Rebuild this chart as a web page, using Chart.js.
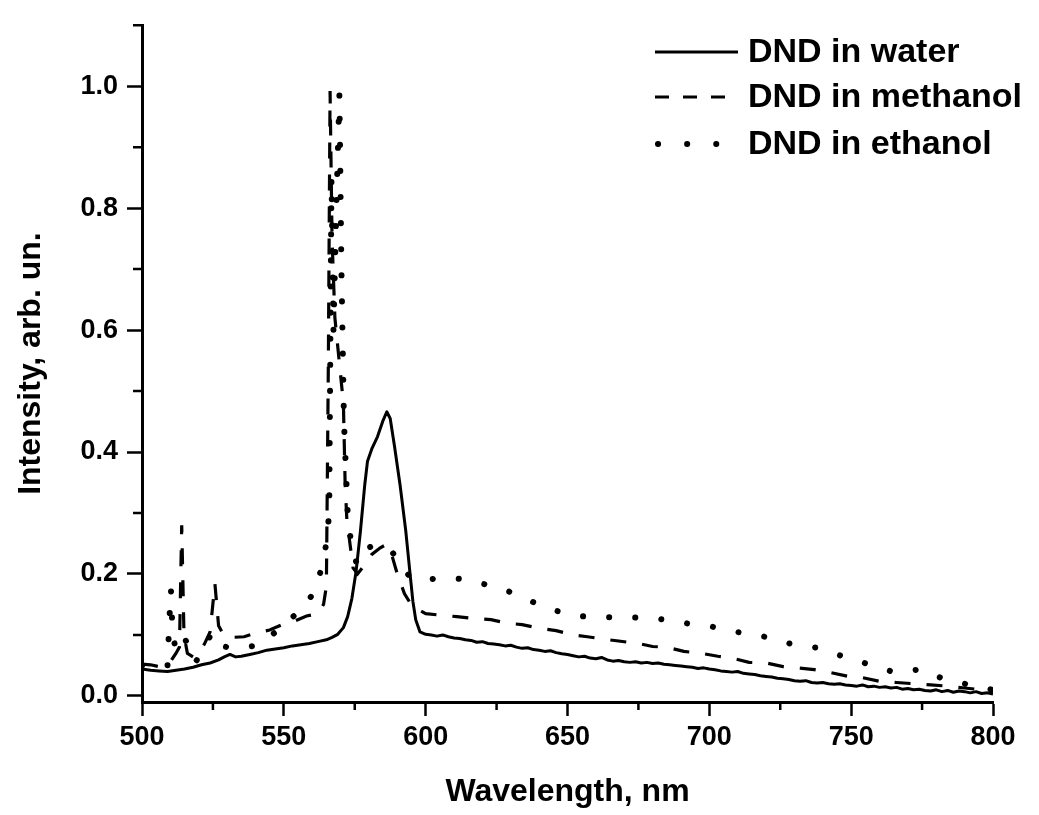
<!DOCTYPE html>
<html>
<head>
<meta charset="utf-8">
<script src="https://cdn.jsdelivr.net/npm/chart.js@4.4.0/dist/chart.umd.min.js"></script>
<style>
  html, body { margin: 0; padding: 0; background: #fff; }
  #wrap { width: 1039px; height: 815px; }
</style>
</head>
<body>
<div id="wrap"><canvas id="myChart" width="1039" height="815"></canvas></div>
<script>
// wavelength (nm) and intensity (arb. un.)
var waterX = [500,503,506,509,512,515,518,521,524,527,529,531,533,535,538,541,544,547,550,553,556,559,562,565,567,569,571,572.5,574,575.5,577,578.5,579.5,581,583,585,586.3,587.5,589,591,593,594.5,595.5,596.5,598,
  600,602,604,606,608,610,612,614,616,618,620,622,624,626,628,630,632,634,636,638,640,642,644,646,648,650,652,654,656,658,660,662,664,666,668,670,672,674,676,678,680,682,684,686,688,690,692,694,696,698,
  700,702,704,706,708,710,712,714,716,718,720,722,724,726,728,730,732,734,736,738,740,742,744,746,748,750,752,754,756,758,760,762,764,766,768,770,772,774,776,778,780,782,784,786,788,790,792,794,796,798,800];
var waterY = [0.044,0.042,0.041,0.040,0.042,0.044,0.047,0.051,0.054,0.059,0.064,0.068,0.064,0.065,0.068,0.071,0.075,0.077,0.079,0.082,0.084,0.086,0.089,0.092,0.096,0.101,0.112,0.13,0.16,0.205,0.27,0.345,0.385,0.405,0.425,0.452,0.466,0.455,0.41,0.345,0.27,0.2,0.155,0.125,0.105,
  0.101,0.100,0.098,0.100,0.097,0.095,0.094,0.092,0.091,0.088,0.089,0.086,0.085,0.084,0.082,0.083,0.080,0.078,0.079,0.076,0.075,0.073,0.074,0.071,0.069,0.068,0.066,0.064,0.065,0.062,0.061,0.063,0.059,0.057,0.058,0.056,0.055,0.056,0.054,0.055,0.053,0.054,0.052,0.051,0.050,0.049,0.048,0.047,0.045,0.046,
  0.044,0.043,0.041,0.040,0.039,0.040,0.037,0.036,0.035,0.033,0.032,0.031,0.029,0.028,0.027,0.025,0.024,0.025,0.022,0.021,0.022,0.020,0.019,0.020,0.018,0.017,0.016,0.018,0.015,0.016,0.014,0.015,0.013,0.014,0.011,0.012,0.010,0.011,0.009,0.008,0.010,0.007,0.009,0.006,0.008,0.007,0.005,0.007,0.004,0.005,0.003];

var methanolX = [500,503,506,508,510,512,513.2,514,514.8,516,518,520,522,524,525.7,527,529,532,536,540,545,550,554,558,562,564,565,565.7,566.3,567,568,569.5,571,571.6,572.2,574.4,576,578,581,584,586,588,590,592.5,595.5,598,
  600,606,611,617,623,629,634,640,646,652,657,663,668,675,680,685,691,697,703,708,714,720,726,731,737,743,749,754,760,766,772,778,784,790,796,800];
var methanolY = [0.052,0.051,0.048,0.05,0.056,0.07,0.08,0.28,0.1,0.07,0.064,0.07,0.085,0.105,0.184,0.115,0.098,0.096,0.097,0.103,0.108,0.118,0.123,0.131,0.135,0.15,0.18,0.55,0.992,0.75,0.62,0.55,0.48,0.35,0.29,0.21,0.2,0.212,0.232,0.243,0.248,0.232,0.2,0.168,0.145,0.14,
  0.135,0.132,0.13,0.127,0.125,0.119,0.117,0.111,0.107,0.1,0.097,0.093,0.09,0.086,0.081,0.08,0.073,0.07,0.065,0.062,0.055,0.054,0.048,0.046,0.043,0.038,0.032,0.03,0.024,0.022,0.02,0.018,0.016,0.013,0.01,0.006];

var ethanolX = [500,504,507,509,509.6,510.2,510.8,512,514,515,516,517.5,519,521,523,524.7,526,528,531,535,541,545,550,553,557,561,563,565,566,566.8,567.5,568.5,569.6,570.3,571.2,572.5,574,575.8,578.6,582.8,586,588.5,591,594,598,
  603,607.5,612,617,622,626,630,634.6,640,644,649,653.7,658,663.5,672,682.6,692,701.6,709.7,719.6,729,738,747,756,765,770,775,779,784,790,795,800];
var ethanolY = [0.05,0.049,0.047,0.05,0.12,0.175,0.1,0.075,0.08,0.095,0.085,0.06,0.056,0.073,0.09,0.103,0.089,0.082,0.079,0.079,0.083,0.097,0.116,0.129,0.145,0.173,0.205,0.25,0.3,0.85,0.6,0.8,0.987,0.7,0.45,0.3,0.24,0.216,0.242,0.247,0.245,0.234,0.216,0.198,0.189,
  0.192,0.194,0.192,0.187,0.182,0.177,0.17,0.16,0.15,0.142,0.136,0.131,0.13,0.129,0.129,0.126,0.119,0.113,0.105,0.097,0.085,0.079,0.065,0.052,0.039,0.041,0.044,0.034,0.026,0.02,0.014,0.01];

var seriesLabels = ['DND in water', 'DND in methanol', 'DND in ethanol'];

var xMajor = [500, 550, 600, 650, 700, 750, 800];
var xMinor = [525, 575, 625, 675, 725, 775];
var yMajor = [0.0, 0.2, 0.4, 0.6, 0.8, 1.0];
var yMinor = [0.1, 0.3, 0.5, 0.7, 0.9, 1.1];

function toPoints(xs, ys) {
  return xs.map(function(x, i) { return {x: x, y: ys[i]}; });
}

var tickFont = {family: "'Liberation Sans', Arial, sans-serif", size: 27, weight: 'bold'};
var titleFont = {family: "'Liberation Sans', Arial, sans-serif", size: 32, weight: 'bold'};

// short ticks between the labelled ones
var minorTicks = {
  id: 'minorTicks',
  afterDraw: function(chart) {
    var ctx = chart.ctx;
    var xs = chart.scales.x, ys = chart.scales.y;
    var area = chart.chartArea;
    ctx.save();
    ctx.strokeStyle = '#000';
    ctx.lineWidth = 2.5;
    ctx.beginPath();
    xMinor.forEach(function(v) {
      var px = xs.getPixelForValue(v);
      ctx.moveTo(px, area.bottom);
      ctx.lineTo(px, area.bottom + 8);
    });
    yMinor.forEach(function(v) {
      var py = ys.getPixelForValue(v);
      ctx.moveTo(area.left, py);
      ctx.lineTo(area.left - 9, py);
    });
    ctx.stroke();
    ctx.restore();
  }
};

// legend inside the plot, top right, with line samples
var lineLegend = {
  id: 'lineLegend',
  afterDraw: function(chart) {
    var ctx = chart.ctx;
    var area = chart.chartArea;
    var x0 = area.right - 338, x1 = area.right - 255, tx = area.right - 245;
    var rows = [52, 97, 144];
    ctx.save();
    chart.data.datasets.forEach(function(ds, i) {
      var y = rows[i];
      ctx.beginPath();
      ctx.strokeStyle = '#000';
      ctx.lineWidth = ds.legendWidth;
      ctx.lineCap = ds.borderCapStyle || 'butt';
      ctx.setLineDash(ds.legendDash);
      ctx.moveTo(ds.legendStart ? x0 + ds.legendStart : x0, y);
      ctx.lineTo(x1, y);
      ctx.stroke();
      ctx.setLineDash([]);
      ctx.fillStyle = '#000';
      ctx.font = "bold 34px 'Liberation Sans', Arial, sans-serif";
      ctx.textBaseline = 'middle';
      ctx.textAlign = 'left';
      ctx.fillText(ds.label, tx, y + 1);
    });
    ctx.restore();
  }
};

var ctx = document.getElementById('myChart').getContext('2d');

var myChart = new Chart(ctx, {
  type: 'line',
  data: {
    datasets: [{
      label: seriesLabels[0],
      data: toPoints(waterX, waterY),
      borderColor: '#000',
      borderWidth: 3,
      borderJoinStyle: 'round',
      legendWidth: 3,
      legendDash: []
    }, {
      label: seriesLabels[1],
      data: toPoints(methanolX, methanolY),
      borderColor: '#000',
      borderWidth: 3.2,
      borderDash: [16, 16],
      legendWidth: 3,
      legendDash: [14, 14]
    }, {
      label: seriesLabels[2],
      data: toPoints(ethanolX, ethanolY),
      borderColor: '#000',
      borderWidth: 6,
      borderDash: [0.1, 26],
      borderCapStyle: 'round',
      legendWidth: 6,
      legendDash: [0.1, 29],
      legendStart: 3
    }]
  },
  options: {
    responsive: false,
    animation: false,
    events: [],
    layout: {
      padding: {top: 15, right: 46, bottom: 0, left: 0}
    },
    elements: {
      point: {radius: 0},
      line: {tension: 0, fill: false}
    },
    plugins: {
      legend: {display: false},
      tooltip: {enabled: false}
    },
    scales: {
      x: {
        type: 'linear',
        min: 500,
        max: 800,
        afterFit: function(scale) { scale.height = 113; },
        afterBuildTicks: function(scale) {
          scale.ticks = xMajor.map(function(v) { return {value: v}; });
        },
        grid: {
          display: true,
          drawOnChartArea: false,
          drawTicks: true,
          tickLength: 14,
          tickWidth: 2.5,
          tickColor: '#000'
        },
        border: {display: true, color: '#000', width: 3},
        ticks: {
          color: '#000',
          font: tickFont,
          padding: 5,
          maxRotation: 0,
          autoSkip: false,
          callback: function(v) { return String(v); }
        },
        title: {
          display: true,
          text: 'Wavelength, nm',
          color: '#000',
          font: titleFont,
          padding: {top: 0, bottom: 4}
        }
      },
      y: {
        type: 'linear',
        min: -0.01,
        max: 1.1,
        afterFit: function(scale) { scale.width = 142; },
        afterBuildTicks: function(scale) {
          scale.ticks = yMajor.map(function(v) { return {value: v}; });
        },
        grid: {
          display: true,
          drawOnChartArea: false,
          drawTicks: true,
          tickLength: 15,
          tickWidth: 2.5,
          tickColor: '#000'
        },
        border: {display: true, color: '#000', width: 3},
        ticks: {
          color: '#000',
          font: tickFont,
          padding: 9,
          autoSkip: false,
          callback: function(v) { return v.toFixed(1); }
        },
        title: {
          display: true,
          text: 'Intensity, arb. un.',
          color: '#000',
          font: titleFont,
          padding: {top: 12, bottom: 0}
        }
      }
    }
  },
  plugins: [minorTicks, lineLegend]
});
</script>
</body>
</html>
